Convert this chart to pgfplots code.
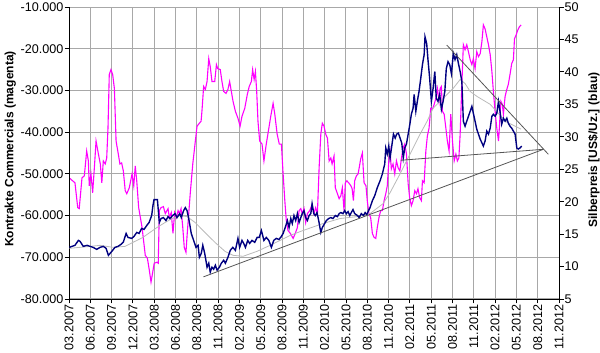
\documentclass[border=0pt]{standalone}
\usepackage{pgfplots}
\pgfplotsset{compat=1.18}
\usepackage{fontspec}
\setmainfont{Liberation Sans}
\definecolor{mag}{RGB}{255,0,255}
\definecolor{navyb}{RGB}{0,0,128}
\definecolor{magray}{RGB}{185,185,185}
\definecolor{trend}{RGB}{85,85,85}

\pgfplotstableread{
t v
0.01 -50952
0.17 -51667
0.28 -52143
0.41 -58095
0.48 -58333
0.61 -50952
0.72 -50476
0.83 -44524
0.91 -46905
0.95 -52857
1.03 -50000
1.11 -54524
1.19 -48571
1.27 -42143
1.38 -45238
1.47 -47619
1.54 -52143
1.61 -46905
1.70 -47619
1.77 -46190
1.83 -39048
1.89 -26190
1.97 -25000
2.05 -26190
2.13 -29524
2.21 -42143
2.29 -44524
2.39 -47619
2.47 -47381
2.55 -49286
2.64 -54048
2.71 -54762
2.83 -53333
2.96 -50000
3.04 -52857
3.11 -48096
3.18 -51667
3.27 -58095
3.43 -62857
3.58 -69524
3.68 -70238
3.77 -73095
3.85 -75952
3.93 -73571
4.00 -71429
4.12 -71190
4.19 -71429
4.24 -58810
4.32 -58095
4.43 -57857
4.52 -59524
4.65 -58333
4.71 -60476
4.80 -59286
4.88 -64286
4.96 -59286
5.04 -60476
5.12 -58810
5.18 -59524
5.26 -58333
5.34 -62857
5.41 -67619
5.49 -68810
5.55 -64286
5.62 -59524
5.69 -54762
5.81 -47619
5.93 -42143
6.01 -38571
6.12 -37857
6.20 -37381
6.24 -35000
6.32 -29048
6.40 -29762
6.48 -27857
6.56 -22381
6.63 -24286
6.71 -27857
6.84 -27857
6.92 -23810
6.98 -24762
7.10 -25000
7.18 -27857
7.26 -30238
7.37 -30714
7.46 -29762
7.54 -27857
7.62 -30238
7.70 -32619
7.81 -35000
7.93 -36667
8.03 -38571
8.12 -36190
8.25 -34286
8.37 -30952
8.46 -29048
8.56 -27857
8.62 -25000
8.69 -27381
8.75 -25476
8.81 -30238
8.87 -37381
8.95 -42143
9.06 -42857
9.15 -46905
9.26 -42857
9.38 -39048
9.47 -36190
9.58 -33095
9.66 -35714
9.77 -40476
9.87 -42857
9.97 -42857
10.05 -50000
10.13 -56429
10.20 -61190
10.28 -63571
10.39 -64286
10.52 -65476
10.62 -64286
10.72 -62857
10.80 -58810
10.88 -58333
10.95 -59524
11.03 -58333
11.11 -61667
11.19 -59524
11.30 -58810
11.41 -57381
11.50 -59524
11.58 -58095
11.66 -59524
11.74 -48571
11.82 -40476
11.89 -37857
11.97 -38571
12.05 -40476
12.13 -41429
12.21 -46905
12.29 -46190
12.35 -47619
12.44 -45714
12.50 -53333
12.60 -54762
12.68 -55952
12.76 -55238
12.83 -53333
12.91 -58810
12.97 -52143
13.04 -51667
13.13 -52143
13.23 -52857
13.29 -53571
13.35 -56429
13.41 -51667
13.49 -50476
13.57 -50000
13.62 -48571
13.69 -46429
13.77 -45000
13.85 -52143
13.94 -52857
14.00 -56429
14.08 -59524
14.16 -60476
14.24 -64286
14.32 -65238
14.40 -65476
14.47 -62857
14.55 -60476
14.63 -58810
14.71 -58810
14.79 -56429
14.87 -54762
14.94 -52857
15.02 -46190
15.07 -44524
15.13 -48810
15.21 -47619
15.29 -50000
15.37 -46905
15.45 -48571
15.53 -49286
15.60 -46429
15.68 -43810
15.76 -42857
15.84 -45238
15.92 -52381
15.99 -55714
16.07 -57619
16.15 -56429
16.23 -54048
16.31 -54762
16.38 -53571
16.46 -55714
16.54 -56429
16.59 -51667
16.67 -52143
16.75 -44524
16.82 -40952
16.90 -39048
16.98 -34286
17.06 -34524
17.14 -33333
17.22 -31905
17.29 -29524
17.37 -32619
17.42 -29524
17.48 -29048
17.53 -35000
17.61 -35714
17.69 -39048
17.76 -42143
17.84 -44524
17.92 -35714
18.00 -42143
18.08 -46905
18.16 -45238
18.23 -46905
18.30 -46190
18.36 -40476
18.44 -28571
18.51 -19048
18.59 -20238
18.67 -19048
18.75 -20714
18.83 -22619
18.91 -23810
18.98 -22381
19.06 -24762
19.14 -20714
19.22 -21905
19.30 -21190
19.38 -18333
19.45 -14286
19.53 -15238
19.61 -17143
19.69 -19048
19.77 -21429
19.85 -25476
19.92 -30238
20.00 -35000
20.08 -39048
20.16 -42143
20.20 -39048
20.27 -32619
20.34 -33333
20.39 -35714
20.47 -31429
20.55 -29762
20.62 -28571
20.70 -26190
20.78 -23571
20.86 -22619
20.91 -17619
20.99 -16667
21.07 -15476
21.14 -14762
21.22 -14286
}\commercials

\pgfplotstableread{
t p
0.02 12.96
0.14 13.11
0.28 13.27
0.44 14.03
0.52 13.88
0.67 13.11
0.85 13.27
0.99 13.11
1.13 12.96
1.30 12.65
1.46 12.96
1.61 13.11
1.74 12.81
1.85 11.73
1.97 12.19
2.16 12.96
2.30 13.11
2.44 13.42
2.55 13.77
2.68 15.10
2.77 14.49
2.94 14.34
3.05 14.64
3.18 15.26
3.29 15.10
3.41 15.87
3.52 15.72
3.65 16.33
3.76 16.79
3.88 17.86
3.94 19.39
3.99 20.31
4.15 20.31
4.20 18.32
4.24 16.79
4.32 17.40
4.43 17.55
4.55 17.09
4.65 17.70
4.74 17.40
4.86 17.86
4.98 18.16
5.07 17.55
5.20 18.16
5.27 17.55
5.38 18.62
5.46 19.08
5.54 18.62
5.62 17.40
5.74 15.10
5.85 14.03
5.96 12.96
6.06 13.27
6.12 11.43
6.21 12.04
6.28 13.27
6.37 12.04
6.48 9.90
6.56 10.51
6.63 9.13
6.71 9.90
6.79 9.59
6.87 10.20
6.95 9.44
7.06 9.90
7.15 10.51
7.26 10.97
7.34 10.51
7.46 11.43
7.57 12.50
7.69 12.96
7.81 12.50
7.93 14.34
8.01 12.96
8.12 14.03
8.20 13.57
8.28 12.96
8.39 14.03
8.48 13.57
8.59 14.03
8.72 13.73
8.83 14.49
8.93 14.49
9.03 15.56
9.15 14.03
9.26 14.49
9.38 14.03
9.50 12.96
9.61 14.03
9.73 14.34
9.85 14.18
9.94 14.49
10.05 15.10
10.15 16.02
10.25 17.09
10.33 16.02
10.41 17.40
10.48 16.63
10.56 17.86
10.64 17.09
10.72 18.16
10.80 16.79
10.88 17.55
10.95 18.16
11.03 18.62
11.11 17.55
11.19 17.09
11.27 17.86
11.35 18.16
11.41 19.69
11.49 18.16
11.56 17.86
11.64 18.32
11.72 17.09
11.82 15.26
11.89 16.02
12.00 16.63
12.08 17.09
12.19 17.40
12.29 17.55
12.39 17.40
12.50 17.86
12.60 17.70
12.68 18.16
12.76 18.32
12.86 18.16
12.94 18.62
13.02 18.16
13.10 18.47
13.18 17.86
13.25 18.32
13.33 18.78
13.41 18.16
13.54 17.86
13.62 17.55
13.72 18.16
13.82 17.86
13.90 18.32
13.98 18.01
14.04 18.47
14.13 19.08
14.24 20.15
14.35 20.92
14.47 22.14
14.60 23.21
14.71 24.29
14.82 25.82
14.87 28.27
14.94 27.35
15.01 28.57
15.07 26.73
15.13 28.11
15.23 30.41
15.31 29.80
15.38 30.41
15.46 30.56
15.54 29.80
15.62 29.03
15.69 26.73
15.76 28.27
15.84 28.88
15.92 30.41
16.00 31.94
16.07 33.47
16.15 34.39
16.20 36.53
16.28 33.93
16.35 35.46
16.43 36.99
16.51 38.98
16.59 41.12
16.67 42.65
16.71 45.41
16.79 44.34
16.85 41.89
16.93 38.98
17.01 35.46
17.09 37.45
17.17 40.05
17.24 35.92
17.32 35.46
17.40 36.53
17.48 34.23
17.56 35.46
17.64 36.99
17.71 40.51
17.79 41.58
17.87 41.12
17.95 39.74
18.04 42.81
18.12 41.89
18.20 42.65
18.28 41.28
18.36 40.05
18.44 38.52
18.51 32.40
18.59 31.63
18.67 32.40
18.75 33.16
18.83 33.93
18.91 34.69
18.98 33.62
19.06 32.40
19.14 31.17
19.30 29.64
19.45 28.57
19.53 29.34
19.61 30.87
19.69 30.41
19.77 31.33
19.85 33.16
19.92 33.47
20.00 33.16
20.08 33.62
20.16 35.46
20.23 33.93
20.31 31.94
20.39 32.86
20.47 32.40
20.55 32.86
20.62 32.09
20.70 31.63
20.78 31.33
20.86 30.87
20.94 30.41
21.02 28.27
21.09 28.11
21.17 28.27
21.25 28.57
}\silver

\pgfplotstableread{
t p
0.02 12.81
0.52 12.96
0.99 13.11
1.46 13.27
2.07 12.96
2.63 13.11
3.00 13.73
3.47 14.49
3.80 15.26
4.13 16.02
4.51 16.79
4.84 17.40
5.21 17.86
5.54 17.70
5.92 16.79
6.38 15.26
6.85 13.73
7.32 12.35
7.70 11.73
8.17 11.58
8.83 12.35
9.44 13.27
10.38 14.80
10.99 15.56
11.92 16.63
12.72 17.40
13.52 17.70
14.13 18.16
14.74 19.69
15.07 21.38
15.54 24.29
16.01 27.35
16.48 30.41
16.81 32.40
17.09 34.39
17.56 35.92
18.03 37.45
18.36 38.83
18.59 38.21
18.83 36.99
19.15 36.22
19.77 35.00
20.23 33.32
20.56 32.24
20.94 31.63
21.22 31.17
}\average

\begin{document}
\begin{tikzpicture}
\useasboundingbox (0pt,0pt) rectangle (600pt,353pt);
\begin{axis}[
  at={(69pt,54pt)}, anchor=south west,
  scale only axis, width=490pt, height=292pt,
  xmin=0, xmax=23, ymin=-80000, ymax=-10000,
  axis line style={draw=none},
  xtick pos=bottom, ytick pos=left,
  xtick={0,...,23},
  xticklabels={03.2007,06.2007,09.2007,12.2007,03.2008,06.2008,08.2008,11.2008,02.2009,05.2009,08.2009,11.2009,02.2010,05.2010,08.2010,11.2010,02.2011,05.2011,08.2011,11.2011,02.2012,05.2012,08.2012,11.2012},
  ytick={-80000,-70000,-60000,-50000,-40000,-30000,-20000,-10000},
  yticklabels={-80.000,-70.000,-60.000,-50.000,-40.000,-30.000,-20.000,-10.000},
  xmajorgrids=true, ymajorgrids=true,
  major grid style={solid, draw={rgb,255:red,168;green,168;blue,168}, line width=1pt, opacity=1},
  tick align=outside, major tick length=4.5pt,
  every major tick/.append style={black, line width=0.9pt},
  tick label style={font=\fontsize{12.6}{15}\selectfont, inner sep=1pt},
  xticklabel style={rotate=90, anchor=east},
  yticklabel style={anchor=east},
  after end axis/.code={
    \draw[black, line width=0.9pt] (rel axis cs:0,1) -- (rel axis cs:0,0) -- (rel axis cs:1,0);
  },
]
\addplot[mag, line width=1.1pt] table[x=t, y=v] {\commercials};
\end{axis}
\begin{axis}[
  at={(69pt,54pt)}, anchor=south west,
  scale only axis, width=490pt, height=292pt,
  xmin=0, xmax=23, ymin=5, ymax=50,
  axis x line=none, axis y line=right,
  xtick=\empty,
  every outer y axis line/.append style={-},
  axis line style={-, black, line width=0.9pt},
  ytick={5,10,15,20,25,30,35,40,45,50},
  yticklabels={5,10,15,20,25,30,35,40,45,50},
  tick align=outside, major tick length=4.5pt,
  tick style={black, line width=0.9pt},
  tick label style={font=\fontsize{12.6}{15}\selectfont, inner sep=1pt},
  yticklabel style={anchor=west},
]
\addplot[magray, line width=0.8pt] table[x=t, y=p] {\average};
\addplot[navyb, line width=1.4pt] table[x=t, y=p] {\silver};
\addplot[trend, line width=0.8pt] coordinates {(6.31,8.41) (22.27,28.07)};
\addplot[trend, line width=0.8pt] coordinates {(15.57,26.38) (22.27,28.07)};
\addplot[trend, line width=0.8pt] coordinates {(17.73,44.14) (22.50,27.30)};
\end{axis}
\node[rotate=90, anchor=base, font=\bfseries\fontsize{12}{14}\selectfont] at (13.3pt,204pt) {Kontrakte Commercials (magenta)};
\node[rotate=90, anchor=base, font=\bfseries\fontsize{12}{14}\selectfont] at (597pt,203pt) {Silberpreis [US\$/Uz.] (blau)};
\end{tikzpicture}
\end{document}
